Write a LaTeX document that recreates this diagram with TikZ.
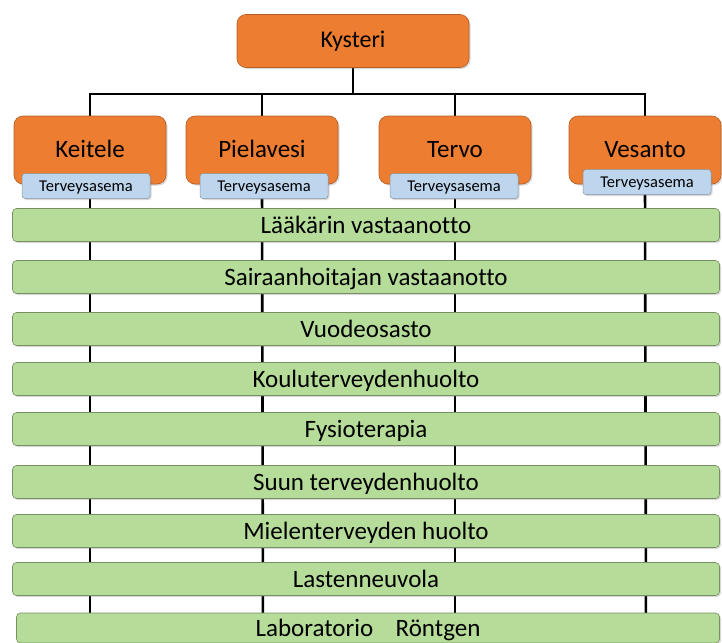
\documentclass[tikz,border=0pt]{standalone}
\usepackage{fontspec}
\setmainfont{Carlito}[Ligatures=NoCommon]
\usetikzlibrary{backgrounds,shadows}
\definecolor{orgorange}{RGB}{237,125,49}
\definecolor{siteblue}{RGB}{189,214,238}
\definecolor{bargreen}{RGB}{181,220,152}
\begin{document}
\begin{tikzpicture}[x=1pt,y=-1pt,
  link/.style={black,line width=2.6pt},
  orgbox/.style={draw=orgorange!75!black,line width=0.6pt,fill=orgorange,rounded corners=9pt,
    minimum width=152pt,minimum height=68pt,inner sep=0pt,font=\fontsize{25}{28}\selectfont,
    text height=18pt,text depth=4pt,
    drop shadow={opacity=0.3,shadow xshift=1.5pt,shadow yshift=-1.5pt}},
  sitebox/.style={draw=siteblue!70!black,line width=0.5pt,fill=siteblue,rounded corners=3pt,
    minimum width=128pt,minimum height=25pt,inner sep=0pt,font=\fontsize{16.5}{18}\selectfont,
    text height=14pt,text depth=3pt,
    drop shadow={opacity=0.3,shadow xshift=1.5pt,shadow yshift=-1.5pt}},
  barbox/.style={draw=bargreen!65!black,line width=0.6pt,fill=bargreen,rounded corners=4pt,
    minimum width=707pt,minimum height=33pt,inner sep=0pt,font=\fontsize{25}{28}\selectfont,
    text height=20pt,text depth=4pt,
    drop shadow={opacity=0.3,shadow xshift=1.5pt,shadow yshift=-1.5pt}}]
\useasboundingbox (0,0) rectangle (722,642);
\node[orgbox,minimum width=232pt,minimum height=53pt,font=\fontsize{24}{27}\selectfont] (kysteri) at (353,41) {Kysteri};
\node[orgbox] (keitele) at (90,150) {Keitele};
\node[orgbox] (pielavesi) at (262,150) {Pielavesi};
\node[orgbox] (tervo) at (455,150) {Tervo};
\node[orgbox] (vesanto) at (645,150) {Vesanto};
\node[sitebox] (keitele site) at (86,186) {Terveysasema};
\node[sitebox] (pielavesi site) at (264,186) {Terveysasema};
\node[sitebox] (tervo site) at (454,186) {Terveysasema};
\node[sitebox] (vesanto site) at (647,182) {Terveysasema};
\node[barbox] (laakari) at (366,225) {Lääkärin vastaanotto};
\node[barbox] (sairaanhoitaja) at (366,277) {Sairaanhoitajan vastaanotto};
\node[barbox] (vuodeosasto) at (366,329) {Vuodeosasto};
\node[barbox] (koulu) at (366,379) {Kouluterveydenhuolto};
\node[barbox] (fysio) at (366,429) {Fysioterapia};
\node[barbox] (suu) at (366,482) {Suun terveydenhuolto};
\node[barbox] (mieli) at (366,531) {Mielenterveyden huolto};
\node[barbox] (neuvola) at (366,579) {Lastenneuvola};
\node[barbox,minimum width=703pt,minimum height=30pt] (lab) at (368,628) {Laboratorio\hspace{0.9em}Röntgen};
\coordinate (keitele end) at (90,642);
\coordinate (pielavesi end) at (263,642);
\coordinate (tervo end) at (455,642);
\coordinate (vesanto end) at (646,642);
\begin{scope}[on background layer]
\draw[link] (kysteri.south) -- ++(0,26) coordinate (hub);
\draw[link] (hub) -| (keitele.north);
\draw[link] (hub) -| (pielavesi.north);
\draw[link] (hub) -| (tervo.north);
\draw[link] (hub) -| (vesanto.north);
\draw[link] (keitele.south) -- (keitele end);
\draw[link] (pielavesi.south) -- (pielavesi end);
\draw[link] (tervo.south) -- (tervo end);
\draw[link] (vesanto.south) -- (vesanto end);
\end{scope}
\end{tikzpicture}
\end{document}
